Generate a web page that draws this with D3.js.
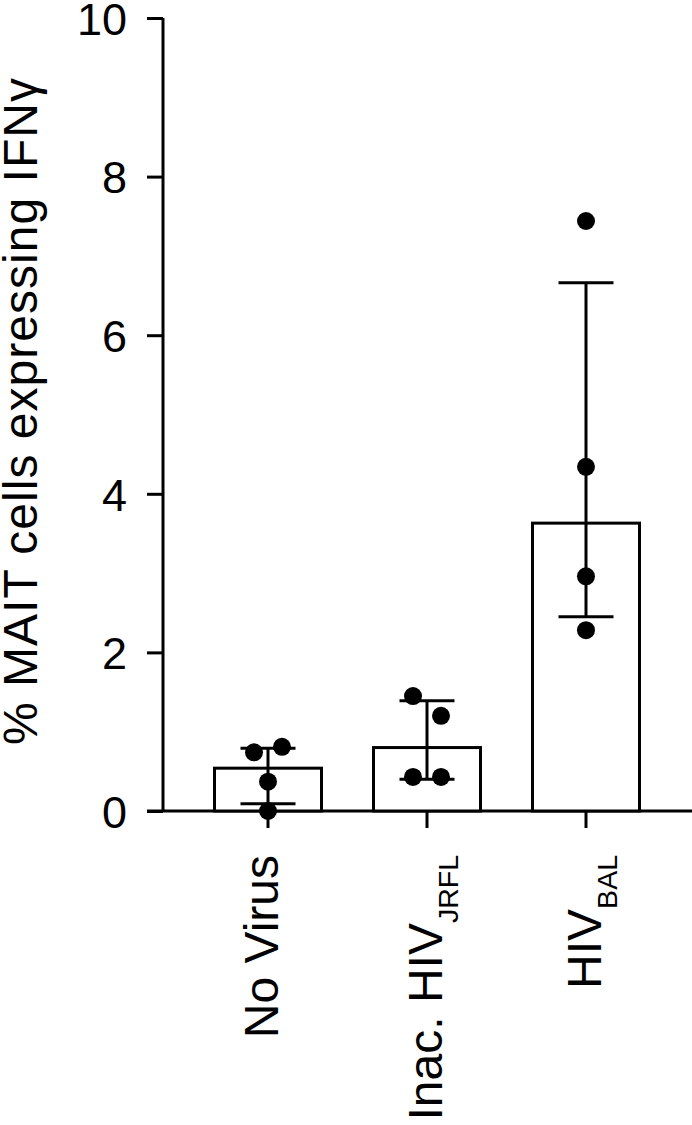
<!DOCTYPE html>
<html>
<head>
<meta charset="utf-8">
<script src="https://cdn.jsdelivr.net/npm/d3@7"></script>
<style>
  html, body { margin: 0; padding: 0; background: #fff; }
  svg { display: block; }
  text { font-family: "Liberation Sans", Arial, Helvetica, sans-serif; fill: #000; }
</style>
</head>
<body>
<svg id="chart" width="692" height="1125"></svg>
<script>
// ---- data ----
const categories = ["No Virus", "Inac. HIV", "HIV"];
const subscripts = ["", "JRFL", "BAL"];
const barValues = [0.54, 0.80, 3.63];
const errLow = [0.09, 0.40, 2.45];
const errHigh = [0.79, 1.39, 6.66];
const points = [
  [0.74, 0.81, 0.37, 0.0],
  [1.45, 1.20, 0.43, 0.43],
  [7.44, 4.34, 2.96, 2.28]
];
const yTicks = [0, 2, 4, 6, 8, 10];
const yTitle = "% MAIT cells expressing IFNγ";

// ---- layout ----
const svg = d3.select("#chart");
const axisX = 163, y0px = 811, y1px = 18;
const y = d3.scaleLinear().domain([0, 10]).range([y0px, y1px]);
const x = d3.scaleBand().domain(categories).range([166.8, 687.2]).paddingInner(0.327).paddingOuter(0.3);
const sw = 3;

// y axis
const yAxis = d3.axisLeft(y).tickValues(yTicks).tickSize(16).tickPadding(20).tickFormat(d3.format("d"));
const gy = svg.append("g").attr("transform", `translate(${axisX},0)`).call(yAxis);
gy.select(".domain").attr("d", `M0,${y1px}V${y0px}`).attr("stroke", "#000").attr("stroke-width", sw);
gy.selectAll(".tick line").attr("stroke", "#000").attr("stroke-width", sw);
gy.selectAll(".tick text").attr("font-size", 45).attr("dy", "0.36em")
  .style("font-family", "'Liberation Sans', Arial, sans-serif");

// x axis
const xAxis = d3.axisBottom(x).tickSize(17).tickFormat("");
const gx = svg.append("g").attr("transform", `translate(0,${y0px})`).call(xAxis);
gx.select(".domain").attr("d", `M147,0H692`).attr("stroke", "#000").attr("stroke-width", sw);
gx.selectAll(".tick line").attr("stroke", "#000").attr("stroke-width", sw);

// bars
const bw = x.bandwidth();
svg.append("g").selectAll("rect").data(categories).join("rect")
  .attr("x", d => x(d))
  .attr("y", (d, i) => y(barValues[i]))
  .attr("width", bw)
  .attr("height", (d, i) => y(0) - y(barValues[i]))
  .attr("fill", "#fff").attr("stroke", "#000").attr("stroke-width", sw);

// error bars
const capW = 55;
const eg = svg.append("g").attr("stroke", "#000").attr("stroke-width", sw).attr("fill", "none");
categories.forEach((c, i) => {
  const cx = x(c) + bw / 2;
  eg.append("line").attr("x1", cx).attr("x2", cx).attr("y1", y(errLow[i])).attr("y2", y(errHigh[i]));
  eg.append("line").attr("x1", cx - capW / 2).attr("x2", cx + capW / 2).attr("y1", y(errHigh[i])).attr("y2", y(errHigh[i]));
  eg.append("line").attr("x1", cx - capW / 2).attr("x2", cx + capW / 2).attr("y1", y(errLow[i])).attr("y2", y(errLow[i]));
});

// points with simple collision spreading
const r = 9, spread = 14;
const pg = svg.append("g");
categories.forEach((c, i) => {
  const cx = x(c) + bw / 2;
  const vals = points[i].map((v, k) => ({ v, k }));
  const sorted = vals.slice().sort((a, b) => b.v - a.v);
  const groups = [];
  sorted.forEach(p => {
    const g = groups[groups.length - 1];
    if (g && Math.abs(y(g[g.length - 1].v) - y(p.v)) < 2.6 * r) g.push(p);
    else groups.push([p]);
  });
  groups.forEach(g => {
    g.sort((a, b) => a.k - b.k);
    g.forEach((p, j) => {
      const off = g.length === 1 ? 0 : (j - (g.length - 1) / 2) * 2 * spread / (g.length - 1 || 1);
      pg.append("circle").attr("cx", cx + off).attr("cy", y(p.v)).attr("r", r).attr("fill", "#000");
    });
  });
});

// x labels (rotated)
const labelEndY = 855;
const fs = 48, subFs = 28.5;
categories.forEach((c, i) => {
  const cx = x(c) + bw / 2;
  const off = subscripts[i] ? 15 : 10;
  const t = svg.append("text")
    .attr("transform", `translate(${cx + off},${labelEndY}) rotate(-90)`)
    .attr("text-anchor", "end")
    .attr("font-size", fs);
  t.append("tspan").text(c);
  if (subscripts[i]) {
    t.append("tspan").attr("font-size", subFs).attr("dy", 16).text(subscripts[i]);
  }
});

// y title
svg.append("text")
  .attr("transform", `translate(37,411.5) rotate(-90)`)
  .attr("text-anchor", "middle")
  .attr("font-size", 48)
  .attr("textLength", 667)
  .attr("lengthAdjust", "spacing")
  .text(yTitle);
</script>
</body>
</html>
